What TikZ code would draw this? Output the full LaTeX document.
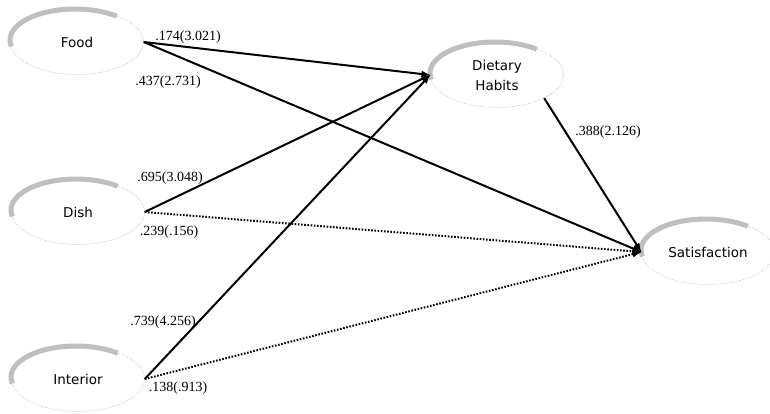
\documentclass[tikz,border=0pt]{standalone}
\usepackage{fontspec}
\setmainfont{Liberation Serif}
\newfontfamily\nodefont{DejaVu Sans}
\usetikzlibrary{shapes.geometric}

\begin{document}
\begin{tikzpicture}[x=1pt,y=1pt,->,>=latex,line width=2pt,
    main node/.style={ellipse,draw=gray!70,line width=0.5pt,densely dotted,minimum width=133pt,minimum height=65pt,align=center,font=\nodefont\fontsize{13.5}{20}\selectfont},
    shade arc/.style={-,draw=gray!50,line width=5pt,solid},
    coef/.style={font=\fontsize{14}{14}\selectfont,inner sep=0pt},
    dot line/.style={dash pattern=on 1.6pt off 1.6pt}]

    \useasboundingbox (0,0) rectangle (770,413);

            \node[main node] (1) at (77,371) {Food};
            \node[main node] (2) at (78,201) {Dish};
            \node[main node] (3) at (78,34) {Interior};
            \node[main node] (4) at (497,338) {Dietary\\Habits};
            \node[main node] (5) at (708,161) {Satisfaction};

            % grey shading on the upper left of each ellipse
            \foreach \n in {1,...,5}
                \draw[shade arc] (\n.center) ++(-2,2) ++(192:65 and 31) arc[start angle=192, end angle=50, x radius=65, y radius=31];

            \draw (1.east) to (4.west);
            \draw (1.east) to (5.west);
            \draw (2.east) to (4.west);
            \draw (3.east) to (4.west);
            \draw (4.south east) to (5.west);
            \draw[dot line] (2.east) to (5.west);
            \draw[dot line] (3.east) to (5.west);

            \node[coef] (c1) at (188,376) {.174(3.021)};
            \node[coef] (c2) at (168,331) {.437(2.731)};
            \node[coef] (c3) at (170,235) {.695(3.048)};
            \node[coef] (c4) at (169,181) {.239(.156)};
            \node[coef] (c5) at (163,91) {.739(4.256)};
            \node[coef] (c6) at (178,25) {.138(.913)};
            \node[coef] (c7) at (608,281) {.388(2.126)};

            ;
        \end{tikzpicture}
\end{document}
